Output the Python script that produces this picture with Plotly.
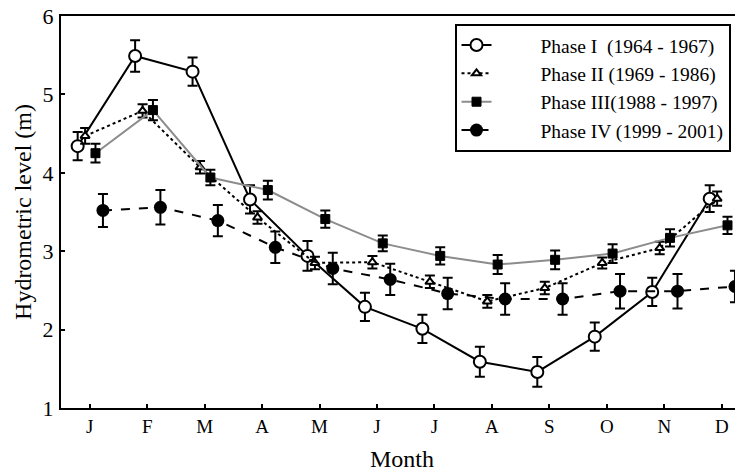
import plotly.graph_objects as go

months = ["J", "F", "M", "A", "M", "J", "J", "A", "S", "O", "N", "D"]

phase1 = [4.34, 5.49, 5.29, 3.66, 2.94, 2.29, 2.01, 1.59, 1.46, 1.91, 2.48, 3.67]
phase1_err = [0.18, 0.2, 0.18, 0.18, 0.19, 0.18, 0.18, 0.19, 0.19, 0.18, 0.18, 0.17]
phase2 = [4.47, 4.79, 4.07, 3.43, 2.85, 2.86, 2.61, 2.36, 2.53, 2.85, 3.04, 3.67]
phase2_err = [0.1, 0.085, 0.08, 0.08, 0.08, 0.08, 0.08, 0.08, 0.08, 0.07, 0.08, 0.09]
phase3 = [4.25, 4.80, 3.94, 3.78, 3.41, 3.10, 2.94, 2.83, 2.89, 2.97, 3.17, 3.33]
phase3_err = [0.12, 0.13, 0.1, 0.12, 0.11, 0.1, 0.11, 0.12, 0.12, 0.12, 0.11, 0.11]
phase4 = [3.52, 3.56, 3.39, 3.05, 2.78, 2.64, 2.46, 2.39, 2.39, 2.49, 2.49, 2.55]
phase4_err = [0.21, 0.22, 0.2, 0.2, 0.2, 0.2, 0.2, 0.2, 0.2, 0.22, 0.22, 0.2]

names = ["Phase I  (1964 - 1967)", "Phase II (1969 - 1986)",
         "Phase III(1988 - 1997)", "Phase IV (1999 - 2001)"]
offsets = [-0.21, -0.08, 0.1, 0.23]

idx = list(range(len(months)))
pad = "\u00a0" * 9

def xs(off):
    return [i + off for i in idx]

fig = go.Figure()

err_style = dict(type="data", color="black", thickness=2, width=5)

fig.add_trace(go.Scatter(
    x=xs(offsets[0]), y=phase1, name=pad + names[0], mode="lines+markers",
    line=dict(color="black", width=2),
    marker=dict(symbol="circle", size=12, color="white", line=dict(color="black", width=2)),
    error_y=dict(array=phase1_err, **err_style)))

fig.add_trace(go.Scatter(
    x=xs(offsets[1]), y=phase2, name=pad + names[1], mode="lines+markers",
    line=dict(color="black", width=2, dash="dot"),
    marker=dict(symbol="triangle-up", size=8, color="white", line=dict(color="black", width=2)),
    error_y=dict(array=phase2_err, **err_style)))

fig.add_trace(go.Scatter(
    x=xs(offsets[2]), y=phase3, name=pad + names[2], mode="lines+markers",
    line=dict(color="#8c8c8c", width=2),
    marker=dict(symbol="square", size=9, color="black", line=dict(color="black", width=1)),
    error_y=dict(array=phase3_err, **err_style)))

fig.add_trace(go.Scatter(
    x=xs(offsets[3]), y=phase4, name=pad + names[3], mode="lines+markers",
    line=dict(color="black", width=2, dash="dash"),
    marker=dict(symbol="circle", size=13, color="black"),
    error_y=dict(array=phase4_err, **err_style)))

serif = "Liberation Serif"

fig.update_layout(
    width=735, height=467,
    margin=dict(l=53, r=0, t=8, b=67, autoexpand=False),
    paper_bgcolor="white", plot_bgcolor="white",
    font=dict(family=serif, color="black"),
    showlegend=True,
    legend=dict(
        x=0.577, y=0.98, xanchor="left", yanchor="top",
        bgcolor="white", bordercolor="black", borderwidth=2,
        font=dict(family=serif, size=19.5, color="black"),
        tracegroupgap=0,
    ),
    xaxis=dict(
        range=[-0.5, 11.37],
        tickmode="array", tickvals=idx, ticktext=months,
        ticks="inside", ticklen=4, tickwidth=1.5, tickcolor="black",
        showline=True, linecolor="black", linewidth=2, mirror=True,
        showgrid=False, zeroline=False, automargin=False,
        tickfont=dict(family=serif, size=19, color="black"),
        title=dict(text="Month", font=dict(family=serif, size=24, color="black"), standoff=14),
    ),
    yaxis=dict(
        range=[1, 6], dtick=1,
        ticks="inside", ticklen=4, tickwidth=1.5, tickcolor="black",
        showline=True, linecolor="black", linewidth=2,
        showgrid=False, zeroline=False, automargin=False,
        ticklabeloverflow="allow", ticklabelstandoff=1,
        tickfont=dict(family=serif, size=22, color="black"),
        title=dict(text="Hydrometric level (m)", font=dict(family=serif, size=24, color="black"), standoff=4),
    ),
)

fig.write_html("out.html")
